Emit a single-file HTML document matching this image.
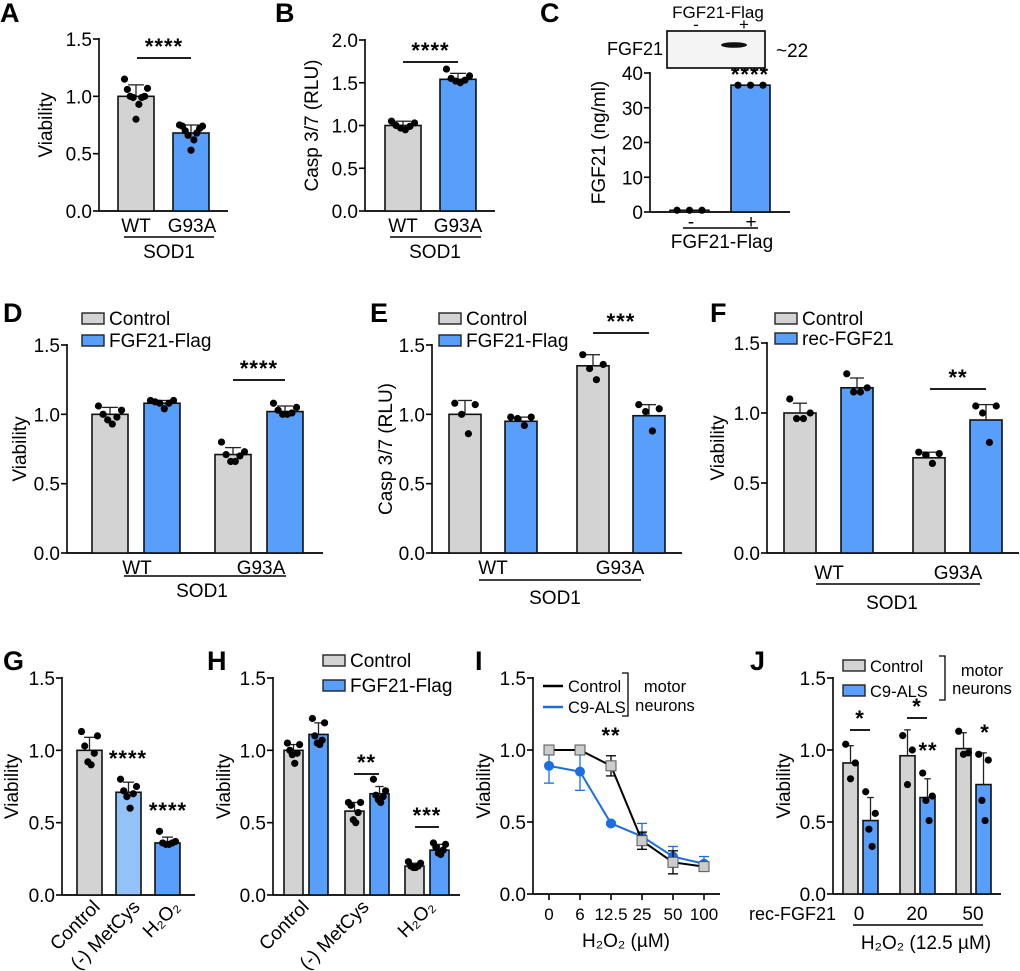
<!DOCTYPE html>
<html><head><meta charset="utf-8"><style>
body{margin:0;background:#fff}
svg{display:block;font-family:"Liberation Sans",Arial,sans-serif}
.t{font-size:19px}
.L{font-size:27px;font-weight:bold}
</style></head><body>
<svg id="fig" width="1020" height="971" viewBox="0 0 1020 971" xmlns="http://www.w3.org/2000/svg"></svg>
<script>
// ---- data ----
const aCats=["WT","G93A"], aMeans=[1.00,0.68], aSD=[0.10,0.07];
const aDots=[[1.15,1.07,1.06,1.0,1.0,0.99,0.99,0.93,0.8],[0.75,0.74,0.74,0.72,0.70,0.68,0.66,0.62,0.53]];
const bCats=["WT","G93A"], bMeans=[1.00,1.54], bSD=[0.05,0.07];
const bDots=[[1.05,1.03,1.0,0.99,0.97,0.95],[1.66,1.58,1.55,1.53,1.52,1.50]];
const cCats=["-","+"], cMeans=[0.5,36.5], cSD=[0,0];
const cDots=[[0.5,0.5,0.5],[36.5,36.5,36.5]];
const dMeans=[1.00,1.08,0.71,1.02], dSD=[0.05,0.02,0.05,0.04];
const dDots=[[1.06,1.03,1.0,0.98,0.96,0.93],[1.1,1.1,1.09,1.08,1.08,1.04],[0.8,0.73,0.71,0.70,0.66,0.66],[1.08,1.05,1.03,1.01,1.0,1.0]];
const eMeans=[1.00,0.95,1.35,0.99], eSD=[0.10,0.03,0.08,0.08];
const eDots=[[1.08,1.07,1.0,0.86],[0.98,0.98,0.97,0.92],[1.43,1.36,1.33,1.25],[1.07,1.04,1.02,0.88]];
const fMeans=[1.00,1.18,0.68,0.95], fSD=[0.07,0.07,0.04,0.11];
const fDots=[[1.1,1.0,0.96,0.96],[1.28,1.18,1.15,1.15],[0.72,0.71,0.70,0.64],[1.05,1.05,1.0,0.79]];
const gMeans=[1.00,0.71,0.36], gSD=[0.09,0.07,0.04];
const gDots=[[1.13,1.1,1.03,0.98,0.92,0.9],[0.8,0.75,0.72,0.70,0.68,0.60],[0.44,0.37,0.36,0.36,0.35,0.35]];
const hMeans=[1.00,1.11,0.58,0.70,0.20,0.31], hSD=[0.04,0.08,0.06,0.05,0.02,0.04];
const hDots=[[1.05,1.04,1.0,0.98,0.97,0.91],[1.22,1.19,1.1,1.07,1.05,1.04],[0.64,0.64,0.62,0.57,0.52,0.50],[0.8,0.72,0.69,0.68,0.66,0.64],[0.23,0.22,0.20,0.20,0.19,0.19],[0.36,0.35,0.33,0.31,0.29,0.28]];
const iDoses=["0","6","12.5","25","50","100"];
const iCtrl=[1.00,1.00,0.89,0.37,0.22,0.19], iCtrlSD=[0.02,0.02,0.07,0.06,0.08,0.02];
const iC9=[0.89,0.85,0.49,0.40,0.26,0.21], iC9SD=[0.12,0.13,0.01,0.09,0.07,0.05];
const jMeans=[0.91,0.51,0.96,0.67,1.01,0.76], jSD=[0.12,0.16,0.18,0.13,0.11,0.22];
const jDots=[[1.04,0.91,0.80],[0.71,0.56,0.45,0.33],[1.10,1.0,0.76],[0.84,0.68,0.65,0.51],[1.13,0.98,0.97],[0.97,0.93,0.65,0.51]];
const vTicks=["0.0","0.5","1.0","1.5"];

const NS="http://www.w3.org/2000/svg", svg=document.getElementById('fig');
const GREY="#d3d3d3", BLUE="#579ffa", LBLUE="#93c2f9";
function el(tag,at,txt,par){const e=document.createElementNS(NS,tag);for(const k in at)e.setAttribute(k,at[k]);if(txt!==undefined)e.textContent=txt;(par||svg).appendChild(e);return e;}
function txt(x,y,s,name,anchor,extra){const e=el('text',Object.assign({x:x,y:y,'text-anchor':anchor||'middle',class:'t'},extra||{}),s);

return e;}
function axes(p,ticks,tickVals,title,name){
 const g=el('g',{});
 
 
 el('line',{x1:p.x0,y1:p.y1-1,x2:p.x0,y2:p.y0,stroke:'#000','stroke-width':1.6},undefined,g);
 el('line',{x1:p.x0,y1:p.y0,x2:p.xe,y2:p.y0,stroke:'#000','stroke-width':1.8},undefined,g);
 tickVals.forEach((v,i)=>{const y=p.ys(v);el('line',{x1:p.x0-6,y1:y,x2:p.x0,y2:y,stroke:'#000','stroke-width':1.6},undefined,g);
  const t=el('text',{x:p.x0-7,y:y+7,'text-anchor':'end',class:'t'},ticks[i],g);
  
  });
 if(title){const t=el('text',{x:0,y:0,'text-anchor':'middle',class:'t',transform:`translate(${p.tx},${(p.y0+p.y1)/2}) rotate(-90)`},title,g);
  
  }
}
function mkScale(x0,xe,y0,y1,max,tx){return {x0,xe,y0,y1,tx,ys:v=>y0-v/max*(y0-y1)};}
function bars(p,means,sds,dots,xs,w,colors,name){
 means.forEach((m,i)=>{
  const x=xs[i], y=p.ys(m);
  const r=el('rect',{x:x,y:y,width:w,height:p.y0-y,fill:colors[i],stroke:'#111','stroke-width':1.6});
  
  
  const cx=x+w/2;
  if(sds[i]>0){const ye=p.ys(m+sds[i]);
   el('line',{x1:cx,y1:y,x2:cx,y2:ye,stroke:'#222','stroke-width':1.3});
   el('line',{x1:cx-w*0.22,y1:ye,x2:cx+w*0.22,y2:ye,stroke:'#222','stroke-width':1.3});}
  const d=dots[i]||[], n=d.length;
  d.forEach((v,k)=>{const idx=(k%2===0)?k/2:n-1-Math.floor(k/2);
   const pos=n>1?(-0.32+0.64*idx/(n-1))*w:0;
   const c=el('circle',{cx:cx+pos,cy:p.ys(v),r:3.6,fill:'#000'});
   
   });
 });
}
const SIGST='font-size:22px;font-weight:bold;letter-spacing:1px';
function sig(x1,x2,yl,s,name){if(x2>x1)el('line',{x1:x1,y1:yl,x2:x2,y2:yl,stroke:'#000','stroke-width':1.8});
 txt((x1+x2)/2,yl-4,s,name,'middle',{style:SIGST});}
function letter(x,y,s){const t=el('text',{x:x,y:y,class:'L'},s);
 
 }
function legBox(x,y,c,s,name,fs){const r=el('rect',{x:x,y:y,width:22,height:11,fill:c,stroke:'#222','stroke-width':1.4});
 
 
 txt(x+27,y+12,s,name+'-legend-entry','start',fs?{style:'font-size:'+fs+'px'}:{});}
function underline(x1,x2,y){el('line',{x1:x1,y1:y,x2:x2,y2:y,stroke:'#000','stroke-width':1.6});}

// A
letter(0,22,'A');
let p=mkScale(99,228,211,39,1.5,52); axes(p,vTicks,[0,0.5,1,1.5],'Viability','a');
bars(p,aMeans,aSD,aDots,[118,173],36,[GREY,BLUE],'a');
sig(137,191,58,'****','a-significance');
aCats.forEach((c,i)=>txt([136,192][i],232,c,'a-x-label'));
underline(124,214,237); txt(169,258,'SOD1','a-group-label');
// B
letter(275,22,'B');
p=mkScale(365,495,211,40,2.0,318); axes(p,["0.0","0.5","1.0","1.5","2.0"],[0,0.5,1,1.5,2],'Casp 3/7 (RLU)','b');
bars(p,bMeans,bSD,bDots,[385,440],36,[GREY,BLUE],'b');
sig(403,458,62,'****','b-significance');
bCats.forEach((c,i)=>txt([403,458][i],232,c,'b-x-label'));
underline(390,481,237); txt(435,258,'SOD1','b-group-label');
// C
letter(540,22,'C');
p=mkScale(650,790,212,73,40,605); axes(p,["0","10","20","30","40"],[0,10,20,30,40],'FGF21 (ng/ml)','c');
bars(p,cMeans,cSD,cDots,[670,731],39,[GREY,BLUE],'c');
sig(750,750,86,'****','c-significance');
cCats.forEach((c,i)=>txt([691,751][i],228,c,'c-x-label'));
underline(683,758,228); txt(722,248,'FGF21-Flag','c-group-label');
const blot=el('rect',{x:667,y:31,width:98,height:37,fill:'#f4f4f4',stroke:'#000','stroke-width':1.6});


const band=el('ellipse',{cx:734,cy:45,rx:13,ry:2.8,fill:'#111'});


txt(718,18,'FGF21-Flag','blot-header',undefined,{style:'font-size:17px'}); txt(696,30,'-','blot-minus',undefined,{style:'font-size:17px'}); txt(744,30,'+','blot-plus',undefined,{style:'font-size:17px'});
txt(663,55,'FGF21','blot-row-label','end',{style:'font-size:18px'}); txt(776,57,'~22','blot-mw','start');
// D
letter(3,322,'D');
p=mkScale(67,323,553,345,1.5,26); axes(p,vTicks,[0,0.5,1,1.5],'Viability','d');
bars(p,dMeans,dSD,dDots,[92,144,215,267],36,[GREY,BLUE,GREY,BLUE],'d');
sig(233,285,380,'****','d-significance');
legBox(82,313,GREY,'Control','d-control'); legBox(82,335,BLUE,'FGF21-Flag','d-flag');
txt(137,574,'WT','d-x-label'); txt(261,574,'G93A','d-x-label');
underline(124,286,576); txt(202,597,'SOD1','d-group-label');
// E
letter(370,322,'E');
p=mkScale(432,682,553,345,1.5,392); axes(p,vTicks,[0,0.5,1,1.5],'Casp 3/7 (RLU)','e');
bars(p,eMeans,eSD,eDots,[449,505,577,633],32,[GREY,BLUE,GREY,BLUE],'e');
sig(593,649,333,'***','e-significance');
legBox(439,313,GREY,'Control','e-control'); legBox(439,335,BLUE,'FGF21-Flag','e-flag');
txt(493,574,'WT','e-x-label'); txt(620,574,'G93A','e-x-label');
underline(479,641,580); txt(555,604,'SOD1','e-group-label');
// F
letter(710,322,'F');
p=mkScale(767,1019,553,343,1.5,724); axes(p,vTicks,[0,0.5,1,1.5],'Viability','f');
bars(p,fMeans,fSD,fDots,[784,841,913,970],32,[GREY,BLUE,GREY,BLUE],'f');
sig(930,986,389,'**','f-significance');
legBox(775,313,GREY,'Control','f-control'); legBox(775,333,BLUE,'rec-FGF21','f-rec');
txt(829,579,'WT','f-x-label'); txt(958,579,'G93A','f-x-label');
underline(816,980,584); txt(892,609,'SOD1','f-group-label');
// G
letter(3,670,'G');
p=mkScale(62,195,895,678,1.5,18); axes(p,vTicks,[0,0.5,1,1.5],'Viability','g');
bars(p,gMeans,gSD,gDots,[77,116,155],25,[GREY,LBLUE,BLUE],'g');
txt(128,766,'****','g-sig-1','middle',{style:SIGST});
txt(168,818,'****','g-sig-2','middle',{style:SIGST});
[["Control",101],["(-) MetCys",141],["H₂O₂",181]].forEach(a=>txt(a[1],908,a[0],'g-x-label','end',{transform:`rotate(-45 ${a[1]} 908)`}));
// H
letter(207,670,'H');
p=mkScale(273,460,895,678,1.5,230); axes(p,vTicks,[0,0.5,1,1.5],'Viability','h');
bars(p,hMeans,hSD,hDots,[284,309,345,370,405,430],19,[GREY,BLUE,GREY,BLUE,GREY,BLUE],'h');
sig(354,379,774,'**','h-significance'); sig(415,439,827,'***','h-significance');
legBox(323,655,GREY,'Control','h-control'); legBox(323,680,BLUE,'FGF21-Flag','h-flag');
[["Control",310],["(-) MetCys",370],["H₂O₂",436]].forEach(a=>txt(a[1],908,a[0],'h-x-label','end',{transform:`rotate(-45 ${a[1]} 908)`}));
// I
letter(475,670,'I');
p=mkScale(533,720,894,678,1.5,490); axes(p,vTicks,[0,0.5,1,1.5],'Viability','i');
const ix=i=>549+i*31;
iDoses.forEach((d,i)=>{el('line',{x1:ix(i),y1:894,x2:ix(i),y2:900,stroke:'#000','stroke-width':1.6});txt(ix(i),920,d,'i-x-tick-label',undefined,{style:'font-size:17px'});});
txt(626,947,'H₂O₂ (µM)','i-x-axis-title');
function series(vals,sds,col,mk,name){
 const pl=el('polyline',{points:vals.map((v,i)=>ix(i)+','+p.ys(v)).join(' '),fill:'none',stroke:col,'stroke-width':2});
 
 
 vals.forEach((v,i)=>{const y=p.ys(v),yt=p.ys(v+sds[i]),yb=p.ys(v-sds[i]);
  el('line',{x1:ix(i),y1:yt,x2:ix(i),y2:yb,stroke:col,'stroke-width':1.3});
  el('line',{x1:ix(i)-5,y1:yt,x2:ix(i)+5,y2:yt,stroke:col,'stroke-width':1.3});
  el('line',{x1:ix(i)-5,y1:yb,x2:ix(i)+5,y2:yb,stroke:col,'stroke-width':1.3});
  const m=mk?el('rect',{x:ix(i)-5,y:y-5,width:10,height:10,fill:'#ccc',stroke:'#555','stroke-width':1}):el('circle',{cx:ix(i),cy:y,r:5,fill:col});
  
  });
}
series(iC9,iC9SD,'#1b6fe3',false,'i-c9als'); series(iCtrl,iCtrlSD,'#000',true,'i-control');
txt(611,743,'**','i-significance','middle',{style:SIGST});
const LS={style:'font-size:16.5px'};
el('line',{x1:543,y1:686,x2:563,y2:686,stroke:'#000','stroke-width':2.5}); txt(568,692,'Control','i-control-legend','start',LS);
el('line',{x1:543,y1:707,x2:563,y2:707,stroke:'#1b6fe3','stroke-width':2.5}); txt(568,713,'C9-ALS','i-c9-legend','start',LS);
el('polyline',{points:'622,673 628,673 628,716 622,716',fill:'none',stroke:'#000','stroke-width':1.3});
txt(665,692,'motor','i-legend-note',undefined,LS); txt(665,711,'neurons','i-legend-note',undefined,LS);
// J
letter(750,670,'J');
p=mkScale(833,1001,894,678,1.5,790); axes(p,vTicks,[0,0.5,1,1.5],'Viability','j');
bars(p,jMeans,jSD,jDots,[843,863,900,920,956,976],15,[GREY,BLUE,GREY,BLUE,GREY,BLUE],'j');
sig(850,870,730,'*','j-significance'); sig(907,927,718,'*','j-significance');
txt(928,758,'**','j-sig','middle',{style:SIGST});
txt(985,740,'*','j-sig','middle',{style:SIGST});
legBox(843,660,GREY,'Control','j-control',16.5); legBox(843,685,BLUE,'C9-ALS','j-c9',16.5);
el('polyline',{points:'939,656 945,656 945,700 939,700',fill:'none',stroke:'#000','stroke-width':1.3});
txt(982,676,'motor','j-legend-note',undefined,LS); txt(982,694,'neurons','j-legend-note',undefined,LS);
txt(836,920,'rec-FGF21','j-row-label','end',{style:'font-size:18px'});
[["0",859],["20",917],["50",973]].forEach(a=>txt(a[1],920,a[0],'j-x-label'));
underline(853,983,925); txt(926,949,'H₂O₂ (12.5 µM)','j-group-label');
</script>
</body></html>
